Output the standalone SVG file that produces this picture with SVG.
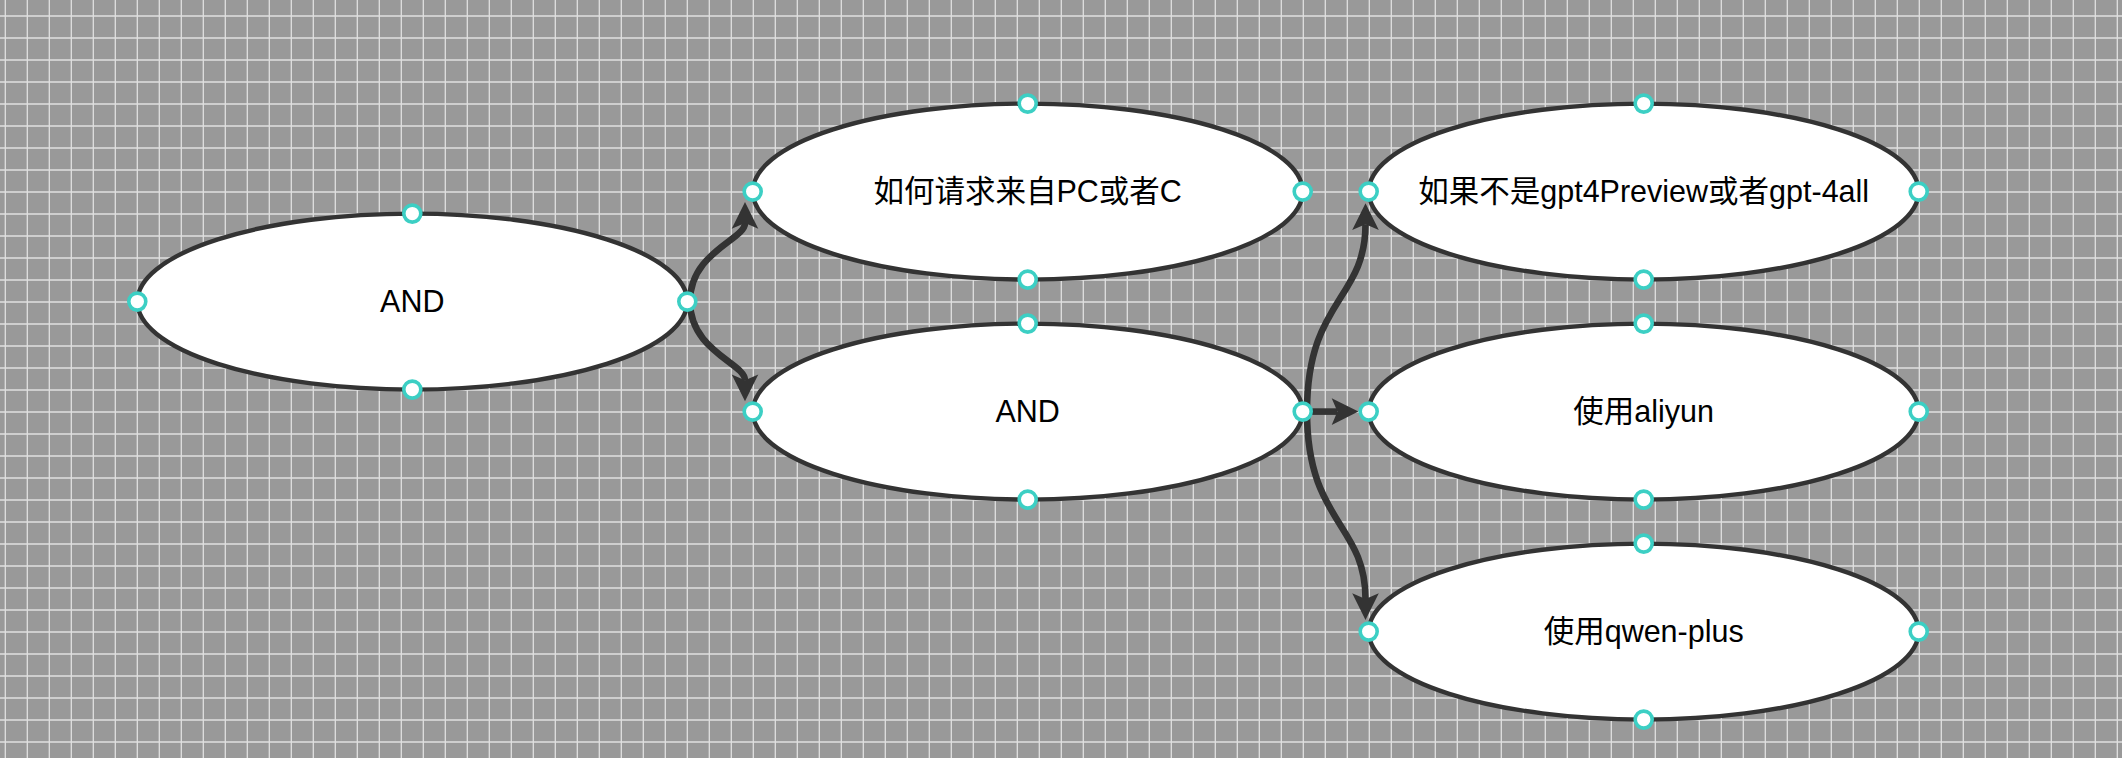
<svg xmlns="http://www.w3.org/2000/svg" width="2122" height="758" viewBox="0 0 2122 758">
  <style>
    .node { fill: #ffffff; stroke: #333333; stroke-width: 4.4; }
    .label { font-family: "Liberation Sans", "Noto Sans CJK SC", Arial, sans-serif; font-size: 30.5px; fill: #000000; text-anchor: middle; }
    .edge { fill: none; stroke: #333333; stroke-width: 6.6; stroke-linecap: butt; }
    .port { fill: #ffffff; stroke: #3ccfc4; stroke-width: 3.6; }
  </style>
  <defs>
    <pattern id="grid" patternUnits="userSpaceOnUse" x="0" y="0" width="22" height="22">
      <rect width="22" height="22" fill="#999999"/>
      <path d="M5.3 0 V22 M0 16 H22" stroke="#e0e0e0" stroke-width="1.3" fill="none"/>
    </pattern>
    <marker id="arrow" markerUnits="userSpaceOnUse" viewBox="-10 -16 40 32" markerWidth="40" markerHeight="32" refX="0" refY="0" orient="auto" overflow="visible">
      <path d="M21,0 L-5.7,-13.3 L0,0 L-5.7,13.3 Z" fill="#333333"/>
    </marker>
  </defs>

  <rect x="0" y="0" width="2122" height="758" fill="url(#grid)"/>

  <g id="connectors">
    <path class="edge" marker-end="url(#arrow)" d="M690 301.6 C690 252, 745 240, 745 223"/>
    <path class="edge" marker-end="url(#arrow)" d="M690 301.6 C690 351.2, 745 363.2, 745 380.2"/>
    <path class="edge" marker-end="url(#arrow)" d="M1307 411.6 C1307 300, 1365.5 300, 1365.5 224.3"/>
    <path class="edge" marker-end="url(#arrow)" d="M1307 411.6 L1337.4 411.6"/>
    <path class="edge" marker-end="url(#arrow)" d="M1307 411.6 C1307 523, 1365.5 523, 1365.5 598.9"/>
  </g>

  <g id="node-and-1">
    <ellipse class="node" cx="412.3" cy="301.6" rx="275" ry="88"/>
    <text class="label" x="412.3" y="312.1">AND</text>
    <circle class="port" cx="137.3" cy="301.6" r="8.5"/>
    <circle class="port" cx="687.3" cy="301.6" r="8.5"/>
    <circle class="port" cx="412.3" cy="213.6" r="8.5"/>
    <circle class="port" cx="412.3" cy="389.6" r="8.5"/>
  </g>

  <g id="node-pc-or-c">
    <ellipse class="node" cx="1027.7" cy="191.6" rx="275" ry="88"/>
    <text class="label" x="1027.7" y="202.1">如何请求来自PC或者C</text>
    <circle class="port" cx="752.7" cy="191.6" r="8.5"/>
    <circle class="port" cx="1302.7" cy="191.6" r="8.5"/>
    <circle class="port" cx="1027.7" cy="103.6" r="8.5"/>
    <circle class="port" cx="1027.7" cy="279.6" r="8.5"/>
  </g>

  <g id="node-and-2">
    <ellipse class="node" cx="1027.7" cy="411.6" rx="275" ry="88"/>
    <text class="label" x="1027.7" y="422.1">AND</text>
    <circle class="port" cx="752.7" cy="411.6" r="8.5"/>
    <circle class="port" cx="1302.7" cy="411.6" r="8.5"/>
    <circle class="port" cx="1027.7" cy="323.6" r="8.5"/>
    <circle class="port" cx="1027.7" cy="499.6" r="8.5"/>
  </g>

  <g id="node-not-gpt4">
    <ellipse class="node" cx="1643.7" cy="191.6" rx="275" ry="88"/>
    <text class="label" x="1643.7" y="202.1">如果不是gpt4Preview或者gpt-4all</text>
    <circle class="port" cx="1368.7" cy="191.6" r="8.5"/>
    <circle class="port" cx="1918.7" cy="191.6" r="8.5"/>
    <circle class="port" cx="1643.7" cy="103.6" r="8.5"/>
    <circle class="port" cx="1643.7" cy="279.6" r="8.5"/>
  </g>

  <g id="node-aliyun">
    <ellipse class="node" cx="1643.7" cy="411.6" rx="275" ry="88"/>
    <text class="label" x="1643.7" y="422.1">使用aliyun</text>
    <circle class="port" cx="1368.7" cy="411.6" r="8.5"/>
    <circle class="port" cx="1918.7" cy="411.6" r="8.5"/>
    <circle class="port" cx="1643.7" cy="323.6" r="8.5"/>
    <circle class="port" cx="1643.7" cy="499.6" r="8.5"/>
  </g>

  <g id="node-qwen-plus">
    <ellipse class="node" cx="1643.7" cy="631.6" rx="275" ry="88"/>
    <text class="label" x="1643.7" y="642.1">使用qwen-plus</text>
    <circle class="port" cx="1368.7" cy="631.6" r="8.5"/>
    <circle class="port" cx="1918.7" cy="631.6" r="8.5"/>
    <circle class="port" cx="1643.7" cy="543.6" r="8.5"/>
    <circle class="port" cx="1643.7" cy="719.6" r="8.5"/>
  </g>
</svg>
